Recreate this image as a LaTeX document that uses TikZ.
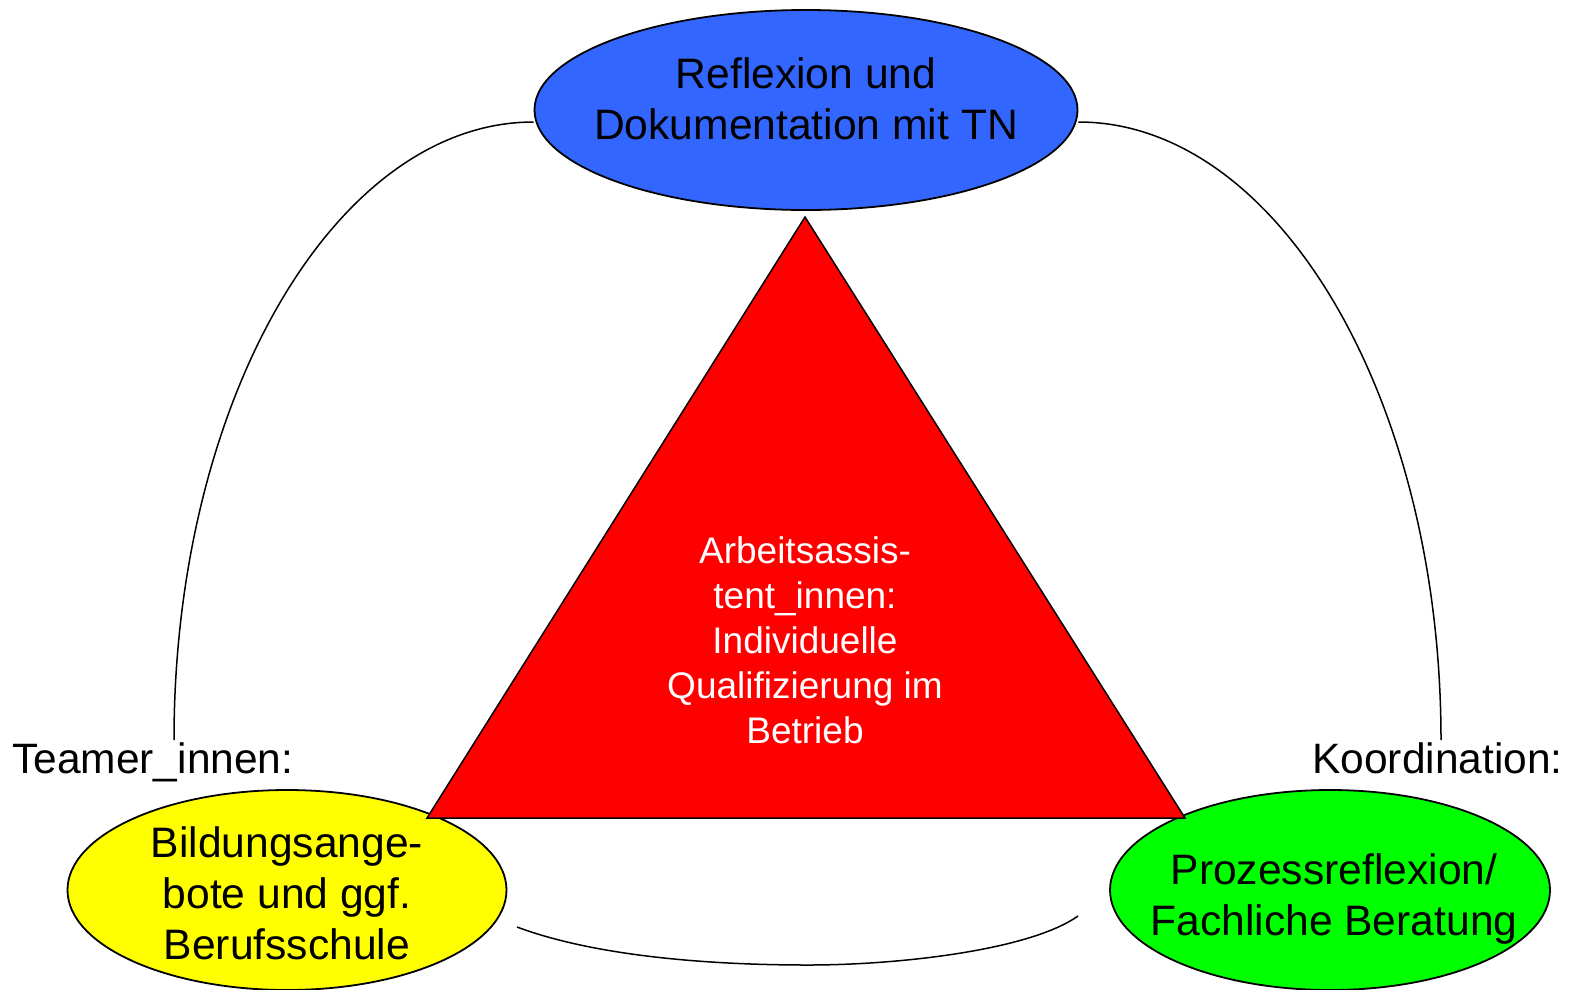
\documentclass[tikz,border=0pt]{standalone}
\usepackage{fontspec}
\setmainfont{Liberation Sans}
\usetikzlibrary{shapes.geometric}
\definecolor{cblue}{HTML}{3366FF}
\definecolor{cyellow}{HTML}{FFFF00}
\definecolor{cgreen}{HTML}{00FF00}
\definecolor{cred}{HTML}{FF0000}
\tikzset{
  oval/.style={ellipse, draw=black, line width=1.8pt, inner sep=0pt},
  bigtxt/.style={align=center, inner sep=0pt, font=\fontsize{42.6}{51}\selectfont},
  redtxt/.style={align=center, inner sep=0pt, text=white, font=\fontsize{37}{45}\selectfont},
  link/.style={draw=black, line width=1.5pt},
}
\begin{document}
\begin{tikzpicture}[x=1pt,y=-1pt]
\useasboundingbox (0,0) rectangle (1571,989);
% ellipses
\node[oval, fill=cblue, minimum width=543, minimum height=200] (refl) at (806,110) {};
\node[oval, fill=cyellow, minimum width=439, minimum height=200] (bild) at (287,890) {};
\node[oval, fill=cgreen, minimum width=440, minimum height=200] (proz) at (1330,890) {};
% triangle
\coordinate (ta) at (805,217);
\coordinate (tl) at (427,818);
\coordinate (tr) at (1185,818);
\draw[fill=cred, line width=1.5pt, line join=miter] (ta) -- (tr) -- (tl) -- cycle;
% texts
\node[bigtxt] (refltxt) at (806,99) {Reflexion und\\Dokumentation mit TN};
\node[bigtxt] (bildtxt) at (287,893) {Bildungsange-\\bote und ggf.\\Berufsschule};
\node[bigtxt] (proztxt) at (1334,899) {Prozessreflexion/\\Fachliche Beratung};
\node[redtxt] (arbtxt) at (805,640) {Arbeitsassis-\\tent\_innen:\\Individuelle\\Qualifizierung im\\Betrieb};
\node[anchor=west, inner sep=0pt, font=\fontsize{42.5}{50}\selectfont] (team) at (12,762) {Teamer\_innen:};
\node[anchor=east, inner sep=0pt, font=\fontsize{42.5}{50}\selectfont] (koord) at (1563,758) {Koordination:};
% connector arcs
\coordinate (lend) at (174,740);
\coordinate (rend) at (1441,740);
\coordinate (bstart) at (517,927);
\coordinate (bmid) at (808,965);
\coordinate (bend) at (1078,916);
\draw[link] (refl.west |- 0,122) .. controls (336,122) and (174,399) .. (lend);
\draw[link] (refl.east |- 0,122) .. controls (1278,122) and (1441,399) .. (rend);
\draw[link] (bstart) .. controls (600,958) and (720,965) .. (bmid) .. controls (900,965) and (1030,950) .. (bend);
\end{tikzpicture}
\end{document}
